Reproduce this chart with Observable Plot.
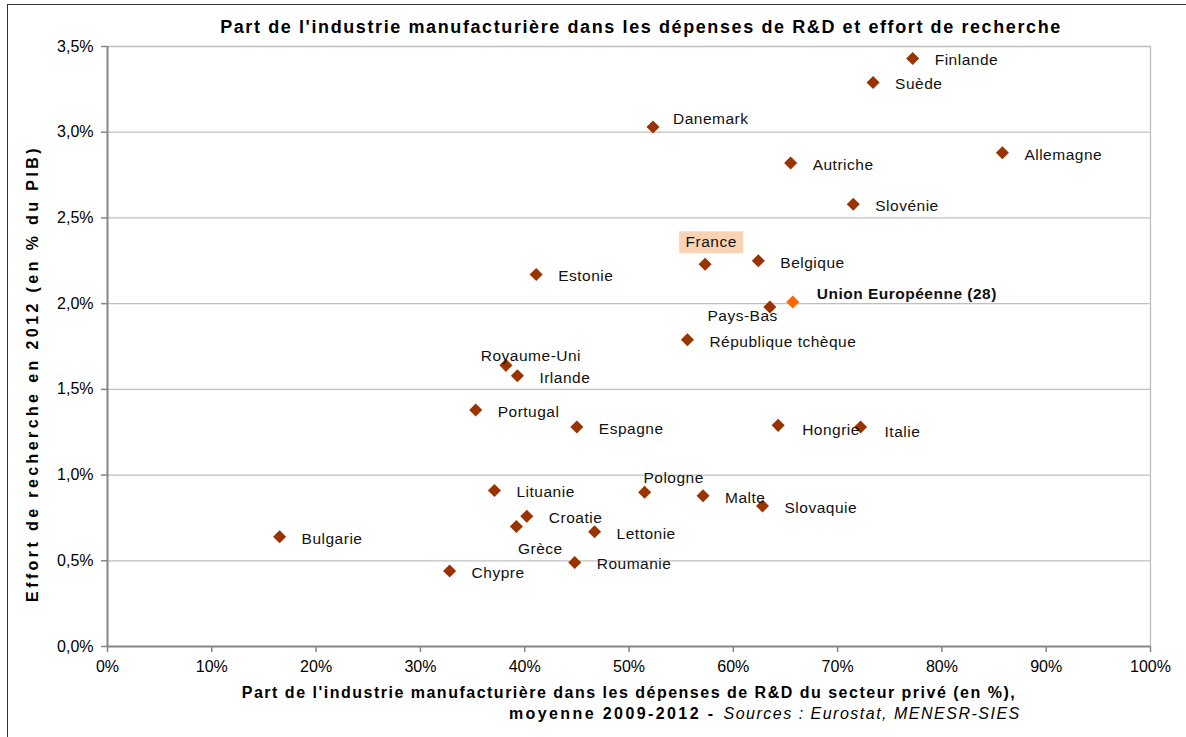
<!DOCTYPE html>
<html>
<head>
<meta charset="utf-8">
<script src="https://cdn.jsdelivr.net/npm/d3@7"></script>
<script src="https://cdn.jsdelivr.net/npm/@observablehq/plot@0.6"></script>
<style>
  html, body { margin: 0; padding: 0; background: #fff; overflow: hidden; }
  #wrap { position: relative; width: 1186px; height: 737px; }
  #border { position: absolute; left: 7px; top: 4px; width: 1200px; height: 800px; border: 1.5px solid #333; pointer-events: none; }
  .ls-label text { letter-spacing: 0.5px; }
  .ls-title text { letter-spacing: 1.6px; }
  .ls-ylab text { letter-spacing: 3.4px; }
  .ls-xlab text { letter-spacing: 1.5px; }
  .ls-xlab2 text { letter-spacing: 2.4px; }
</style>
</head>
<body>
<div id="wrap"><div id="border"></div></div>
<script>
// ---- Data ----
const countries = ["Finlande","Suède","Danemark","Allemagne","Autriche","Slovénie","France","Belgique","Estonie","Pays-Bas","République tchèque","Royaume-Uni","Irlande","Portugal","Espagne","Hongrie","Italie","Lituanie","Pologne","Malte","Slovaquie","Croatie","Grèce","Lettonie","Bulgarie","Roumanie","Chypre"];
const manufShare = [77.2,73.4,52.3,85.8,65.5,71.5,57.3,62.4,41.1,63.5,55.6,38.2,39.3,35.3,45.0,64.3,72.2,37.1,51.5,57.1,62.8,40.2,39.2,46.7,16.5,44.8,32.8];
const rdEffort = [3.43,3.29,3.03,2.88,2.82,2.58,2.23,2.25,2.17,1.98,1.79,1.64,1.58,1.38,1.28,1.29,1.28,0.91,0.90,0.88,0.82,0.76,0.70,0.67,0.64,0.49,0.44];
const euName = ["Union Européenne (28)"];
const euShare = [65.7];
const euEffort = [2.01];
const xTicks = [0,10,20,30,40,50,60,70,80,90,100];
const yTicks = [0,0.5,1,1.5,2,2.5,3,3.5];

const titleText = "Part de l'industrie manufacturière dans les dépenses de R&D et effort de recherche";
const yLabel = "Effort de recherche en 2012 (en % du PIB)";
const xLabel1 = "Part de l'industrie manufacturière dans les dépenses de R&D du secteur privé (en %),";
const xLabel2a = "moyenne 2009-2012 -";
const xLabel2b = "Sources : Eurostat, MENESR-SIES";

// label placement (layout only)
const labelPlacement = {
  "Danemark": "upRight",
  "Pays-Bas": "belowLeft",
  "Royaume-Uni": "above",
  "Pologne": "aboveRight",
  "Grèce": "belowRight",
  "France": "boxAbove",
  "Hongrie": "rightLow",
  "Italie": "rightLow"
};
const placements = {
  right:      {dx: 22, dy: 2,   textAnchor: "start"},
  rightLow:   {dx: 24, dy: 5,   textAnchor: "start"},
  upRight:    {dx: 20, dy: -8,  textAnchor: "start"},
  belowLeft:  {dx: 8,  dy: 9,   textAnchor: "end"},
  above:      {dx: 25, dy: -9,  textAnchor: "middle"},
  aboveRight: {dx: 29, dy: -14, textAnchor: "middle"},
  belowRight: {dx: 24, dy: 23,  textAnchor: "middle"},
  boxAbove:   {dx: 6,  dy: -22, textAnchor: "middle"}
};

const data = countries.map((c, i) => ({name: c, x: manufShare[i], y: rdEffort[i], place: labelPlacement[c] || "right"}));
const eu = euName.map((c, i) => ({name: c, x: euShare[i], y: euEffort[i]}));

const boxSymbol = { draw(ctx) { ctx.rect(-32, -11, 64, 22); } };
const FONT = "'Liberation Sans', Arial, sans-serif";
const pointColor = "#993300";

const labelMarks = Object.entries(placements).map(([key, o]) =>
  Plot.text(data.filter(d => d.place === key), {
    x: "x", y: "y", text: "name", dx: o.dx, dy: o.dy, textAnchor: o.textAnchor,
    fontSize: 15.5, fill: "#111", className: "ls-label"
  })
);

const chart = Plot.plot({
  width: 1186,
  height: 737,
  marginLeft: 107,
  marginRight: 36,
  marginTop: 46,
  marginBottom: 91,
  style: { fontFamily: FONT, fontSize: "16px", background: "transparent", color: "#000" },
  x: { domain: [0, 100] },
  y: { domain: [0, 3.5] },
  marks: [
    Plot.ruleY(yTicks.filter(v => v > 0), { stroke: "#bfbfbf", strokeWidth: 1.3 }),
    Plot.ruleX([100], { stroke: "#bfbfbf", strokeWidth: 1.3 }),
    Plot.axisY({ ticks: yTicks, tickFormat: d => d.toFixed(1).replace(".", ",") + "%", tickSize: 6, tickPadding: 8, stroke: "#868686", strokeWidth: 1.5, fill: "#000", fontSize: 16, label: null }),
    Plot.axisX({ ticks: xTicks, tickFormat: d => d + "%", tickSize: 6, tickPadding: 8, stroke: "#868686", strokeWidth: 1.5, fill: "#000", fontSize: 16, label: null }),
    Plot.ruleX([0], { stroke: "#868686", strokeWidth: 2 }),
    Plot.ruleY([0], { stroke: "#868686", strokeWidth: 2 }),
    Plot.dot(data.filter(d => d.name === "France"), { x: "x", y: "y", symbol: boxSymbol, fill: "#fad3b4", stroke: "none", dx: 6, dy: -22 }),
    Plot.dot(data, { x: "x", y: "y", symbol: "square", rotate: 45, r: 5.2, fill: pointColor, stroke: "none" }),
    Plot.dot(eu, { x: "x", y: "y", symbol: "square", rotate: 45, r: 5.2, fill: "#ff6600", stroke: "none" }),
    ...labelMarks,
    Plot.text(eu, { x: "x", y: "y", text: "name", dx: 24, dy: -8, textAnchor: "start", fontSize: 15.5, fontWeight: "bold", fill: "#111", className: "ls-label" }),
    Plot.text([titleText], { frameAnchor: "top", dx: 12, dy: -26, fontSize: 18, fontWeight: "bold", fill: "#000", className: "ls-title" }),
    Plot.text([yLabel], { frameAnchor: "left", textAnchor: "middle", rotate: -90, dx: -75, dy: 27, fontSize: 16, fontWeight: "bold", fill: "#000", className: "ls-ylab" }),
    Plot.text([xLabel1], { frameAnchor: "bottom", dy: 51, fontSize: 16, fontWeight: "bold", fill: "#000", className: "ls-xlab" }),
    Plot.text([xLabel2a], { frameAnchor: "bottom-left", dx: 608, dy: 72, textAnchor: "end", fontSize: 16, fontWeight: "bold", fill: "#000", className: "ls-xlab2" }),
    Plot.text([xLabel2b], { frameAnchor: "bottom-left", dx: 616, dy: 72, textAnchor: "start", fontSize: 16, fontStyle: "italic", fill: "#000", className: "ls-xlab" })
  ]
});
document.getElementById("wrap").prepend(chart);
</script>
</body>
</html>
